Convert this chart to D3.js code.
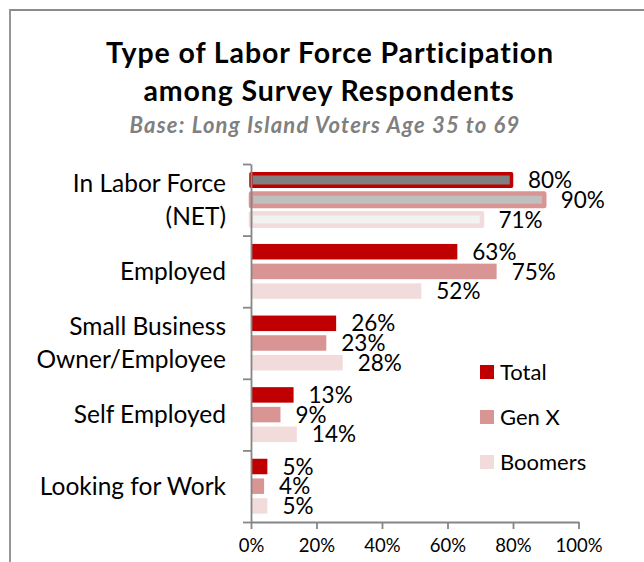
<!DOCTYPE html>
<html>
<head>
<meta charset="utf-8">
<script src="https://cdn.jsdelivr.net/npm/d3@7"></script>
<style>
  html, body { margin: 0; padding: 0; background: #fff; }
  svg { display: block; }
  text { font-family: Lato, "Open Sans", sans-serif; fill: #000; }
</style>
</head>
<body>
<svg id="chart" width="644" height="562"></svg>
<script>
// Labor force participation by generation (percent of respondents)
const categories = ["In Labor Force (NET)", "Employed", "Small Business Owner/Employee", "Self Employed", "Looking for Work"];
const categoryLines = [["In Labor Force", "(NET)"], ["Employed"], ["Small Business", "Owner/Employee"], ["Self Employed"], ["Looking for Work"]];
const series = ["Total", "Gen X", "Boomers"];
const totalValues = [80, 63, 26, 13, 5];
const genXValues = [90, 75, 23, 9, 4];
const boomerValues = [71, 52, 28, 14, 5];
const xTicks = [0, 20, 40, 60, 80, 100];

const valuesBySeries = { "Total": totalValues, "Gen X": genXValues, "Boomers": boomerValues };
const seriesColor = { "Total": "#C00000", "Gen X": "#D99594", "Boomers": "#F2DCDB" };
// NET row is emphasised: grey fill, series colour as outline
const netFill = { "Total": "#808080", "Gen X": "#BFBFBF", "Boomers": "#F2F2F2" };

const svg = d3.select("#chart");

// outer chart frame
svg.append("path")
  .attr("d", "M10,562 L10,10 L644,10")
  .attr("fill", "none")
  .attr("stroke", "#8C8C8C")
  .attr("stroke-width", 1.8);

// titles
svg.append("text").attr("x", 330).attr("y", 63).attr("text-anchor", "middle")
  .style("font-size", "28.5px").style("font-weight", "700").style("letter-spacing", "0.9px")
  .text("Type of Labor Force Participation");
svg.append("text").attr("x", 329).attr("y", 101).attr("text-anchor", "middle")
  .style("font-size", "28.5px").style("font-weight", "700").style("letter-spacing", "0.9px")
  .text("among Survey Respondents");
svg.append("text").attr("x", 325).attr("y", 133).attr("text-anchor", "middle")
  .style("font-size", "22px").style("font-weight", "700").style("font-style", "italic")
  .style("letter-spacing", "1.2px")
  .style("fill", "#808080")
  .text("Base: Long Island Voters Age 35 to 69");

const x = d3.scaleLinear().domain([0, 100]).range([251, 578.5]);
const y = d3.scaleBand().domain(categories).range([164, 522]);
const ys = d3.scaleBand().domain(series).range([0, y.bandwidth()])
  .paddingInner(0.213).paddingOuter(0.424);

const rows = [];
categories.forEach((c, i) => {
  series.forEach(s => rows.push({ cat: c, idx: i, s, v: valuesBySeries[s][i] }));
});

// bars
svg.append("g").selectAll("rect").data(rows).join("rect")
  .attr("x", x(0))
  .attr("y", d => y(d.cat) + ys(d.s) + (d.idx === 0 ? 1.5 : 0))
  .attr("width", d => x(d.v) - x(0) - (d.idx === 0 ? 1.5 : 0))
  .attr("height", d => ys.bandwidth() - (d.idx === 0 ? 3 : 0))
  .attr("fill", d => d.idx === 0 ? netFill[d.s] : seriesColor[d.s])
  .attr("stroke", d => d.idx === 0 ? seriesColor[d.s] : "none")
  .attr("stroke-width", d => d.idx === 0 ? (d.s === "Total" ? 3.5 : 4.5) : 0)
  .attr("stroke-linejoin", "round");

// value labels
svg.append("g").selectAll("text").data(rows).join("text")
  .attr("x", d => x(d.v) + 15)
  .attr("y", d => y(d.cat) + ys(d.s) + ys.bandwidth() / 2)
  .attr("dy", "0.36em")
  .style("font-size", "22.5px")
  .text(d => d.v + "%");

// category axis with ticks on band boundaries
const yEdge = d3.scaleLinear().domain([0, categories.length]).range([164, 522]);
const yAxis = svg.append("g").attr("transform", `translate(${x(0)},0)`)
  .call(d3.axisLeft(yEdge).tickValues(d3.range(categories.length + 1)).tickSize(8).tickSizeOuter(0).tickFormat(""));
yAxis.selectAll("path, line").attr("stroke", "#868686").attr("stroke-width", 1.8);

// category labels
const catG = svg.append("g");
categories.forEach((c, i) => {
  const lines = categoryLines[i];
  const cy = y(c) + y.bandwidth() / 2;
  const lh = 33;
  lines.forEach((ln, j) => {
    catG.append("text")
      .attr("x", 226)
      .attr("y", cy + (j - (lines.length - 1) / 2) * lh)
      .attr("dy", "0.36em")
      .attr("text-anchor", "end")
      .style("font-size", "24.5px")
      .text(ln);
  });
});

// value axis
const xAxis = svg.append("g").attr("transform", "translate(0,522)")
  .call(d3.axisBottom(x).tickValues(xTicks).tickSize(7).tickSizeOuter(0).tickPadding(10).tickFormat(d => d + "%"));
xAxis.selectAll("path, line").attr("stroke", "#868686").attr("stroke-width", 1.8);
xAxis.selectAll("text").style("font-size", "18.5px").style("font-family", "Lato, sans-serif").attr("fill", "#000");

// legend
const legend = svg.append("g");
const legendY = [372, 417, 462];
series.forEach((s, i) => {
  legend.append("rect").attr("x", 480).attr("y", legendY[i] - 7).attr("width", 14).attr("height", 14)
    .attr("fill", seriesColor[s]);
  legend.append("text").attr("x", 500).attr("y", legendY[i]).attr("dy", "0.36em")
    .style("font-size", "22px").text(s);
});
</script>
</body>
</html>
